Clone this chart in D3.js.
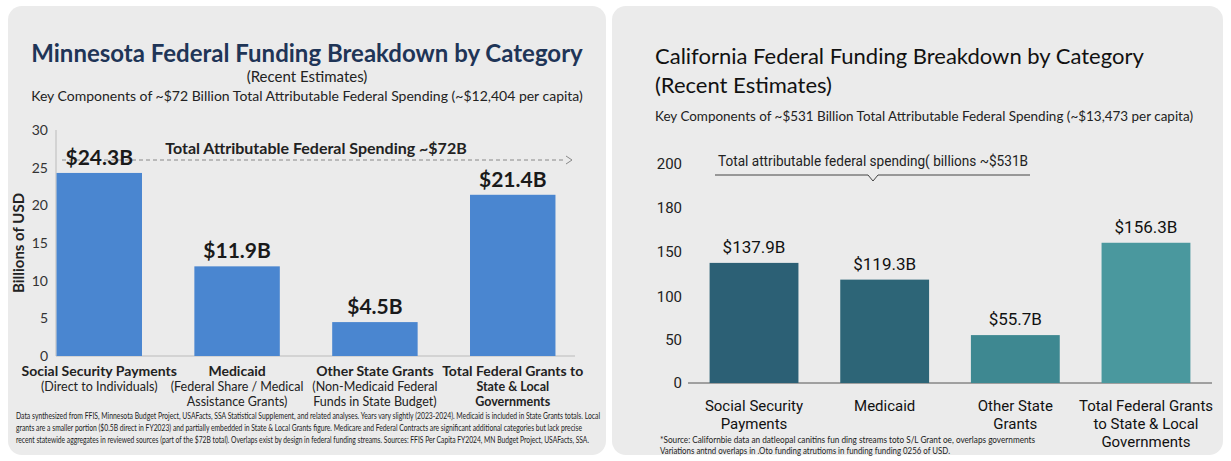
<!DOCTYPE html><html><head><meta charset="utf-8"><script src="https://cdn.jsdelivr.net/npm/d3@7"></script>
<style>body{margin:0;background:#fff;font-family:Lato,"Open Sans",sans-serif}</style></head><body><svg id="c" width="1231" height="461"></svg>
<script>
const mnCats=[["Social Security Payments","(Direct to Individuals)"],["Medicaid","(Federal Share / Medical","Assistance Grants)"],["Other State Grants","(Non-Medicaid Federal","Funds in State Budget)"],["Total Federal Grants to","State & Local","Governments"]];
const mnVals=[24.3,11.9,4.5,21.4];
const mnTicks=[0,5,10,15,20,25,30];
const caCats=[["Social Security","Payments"],["Medicaid"],["Other State","Grants"],["Total Federal Grants","to State & Local","Governments"]];
const caVals=[137.9,119.3,55.7,156.3];
const caTicks=[0,50,100,150,180,200];
const caColors=["#2c6075","#2d6577","#3e8891","#4a989e"];
const svg=d3.select("#c");
svg.append("rect").attr("x",8).attr("y",6).attr("width",598).attr("height",449).attr("rx",14).attr("fill","#ebebeb");
svg.append("rect").attr("x",612).attr("y",6).attr("width",611).attr("height",449).attr("rx",14).attr("fill","#ebebeb");
function t(x,y,s,o){const e=svg.append("text").attr("x",x).attr("y",y).text(s).attr("font-size",o.fs||14).attr("fill",o.c||"#222").attr("text-anchor",o.a||"middle").attr("font-weight",o.w||"normal");if(o.f)e.attr("font-family",o.f);if(o.L)e.attr("textLength",o.L).attr("lengthAdjust","spacingAndGlyphs");return e;}
// MN
t(307,62,"Minnesota Federal Funding Breakdown by Category",{fs:24,w:"bold",c:"#1f3557"});
t(307,82,"(Recent Estimates)",{fs:15});
t(307,101,"Key Components of ~$72 Billion Total Attributable Federal Spending (~$12,404 per capita)",{fs:14});
const my=d3.scaleLinear().domain([0,30]).range([356,130]);
const mx=d3.scaleBand().domain(d3.range(4)).range([40,572]).paddingInner(0.38).paddingOuter(0.12);
const ga=svg.append("g").attr("transform","translate(48,0)").call(d3.axisLeft(my).tickValues(mnTicks).tickSize(0).tickPadding(0));
ga.select(".domain").remove();ga.selectAll("text").attr("font-size",14).attr("fill","#333").attr("font-family","Lato");
svg.append("line").attr("x1",56).attr("x2",56).attr("y1",130).attr("y2",356).attr("stroke","#bbb");
svg.append("line").attr("x1",56).attr("x2",575).attr("y1",356).attr("y2",356).attr("stroke","#bbb");
t(0,0,"Billions of USD",{fs:15,w:"bold"}).attr("transform","translate(24,243) rotate(-90)");
svg.append("line").attr("x1",62).attr("x2",566).attr("y1",160).attr("y2",160).attr("stroke","#888").attr("stroke-dasharray","4,3");
svg.append("path").attr("d","M566,156 L572,160 L566,164").attr("fill","none").attr("stroke","#888");
t(316,154,"Total Attributable Federal Spending ~$72B",{fs:16,w:"bold",c:"#222"});
mnVals.forEach((v,i)=>{const x=mx(i);
svg.append("rect").attr("x",x).attr("y",my(v)).attr("width",mx.bandwidth()).attr("height",356-my(v)).attr("fill","#4a86d0");
t(x+mx.bandwidth()/2,my(v)-8,"$"+v+"B",{fs:21,w:"bold",c:"#1a1a1a"});
mnCats[i].forEach((s,j)=>t(x+mx.bandwidth()/2,376+j*15,s,{fs:j?12.5:14,w:(j==0||i==3)?"bold":"normal"}));});
const fo={fs:8.5,a:"start",L:584};
t(16,419,"Data synthesized from FFIS, Minnesota Budget Project, USAFacts, SSA Statistical Supplement, and related analyses. Years vary slightly (2023-2024). Medicaid is included in State Grants totals. Local",fo);
t(16,431,"grants are a smaller portion ($0.5B direct in FY2023) and partially embedded in State & Local Grants figure. Medicare and Federal Contracts are significant additional categories but lack precise",{fs:8.5,a:"start",L:566});
t(16,443,"recent statewide aggregates in reviewed sources (part of the $72B total). Overlaps exist by design in federal funding streams. Sources: FFIS Per Capita FY2024, MN Budget Project, USAFacts, SSA.",{fs:8.5,a:"start",L:573});
// CA
t(655,64,"California Federal Funding Breakdown by Category",{fs:22,a:"start",c:"#111"});
t(655,93,"(Recent Estimates)",{fs:22,a:"start",c:"#111"});
t(655,121,"Key Components of ~$531 Billion Total Attributable Federal Spending (~$13,473 per capita)",{fs:14,a:"start",L:538});
const cy=d3.scaleLinear().domain(caTicks).range([383,340,297,252,208,164]);
const cx=d3.scaleBand().domain(d3.range(4)).range([690,1210]).paddingInner(0.32).paddingOuter(0.15);
const gb=svg.append("g").attr("transform","translate(682,0)").call(d3.axisLeft(cy).tickValues(caTicks).tickSize(0).tickPadding(0));
gb.select(".domain").remove();gb.selectAll("text").attr("font-size",15).attr("fill","#222").attr("font-family","Roboto");
svg.append("line").attr("x1",688).attr("x2",1212).attr("y1",383).attr("y2",383).attr("stroke","#555");
svg.append("path").attr("d","M715,175 L868,175 L873,181 L878,175 L1030,175").attr("fill","none").attr("stroke","#444");
t(873,166,"Total attributable federal spending( billions ~$531B",{fs:14,f:"Roboto",c:"#222",L:310});
caVals.forEach((v,i)=>{const x=cx(i);
svg.append("rect").attr("x",x).attr("y",cy(v)).attr("width",cx.bandwidth()).attr("height",383-cy(v)).attr("fill",caColors[i]);
t(x+cx.bandwidth()/2,cy(v)-10,"$"+v+"B",{fs:17,f:"Roboto",c:"#111"});
caCats[i].forEach((s,j)=>t(x+cx.bandwidth()/2,411+j*18,s,{fs:15,f:"Roboto",c:"#111"}));});
t(660,443,"*Source: Californbie data an datleopal canitins fun ding streams toto S/L Grant oe, overlaps governments",{fs:9,a:"start",L:375});
t(660,454,"Variations antnd overlaps in .Oto funding atrutioms in funding funding 0256 of USD.",{fs:9,a:"start",L:290});
</script></body></html>
